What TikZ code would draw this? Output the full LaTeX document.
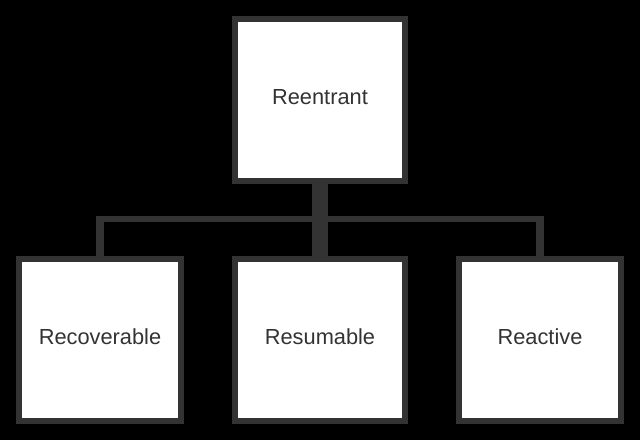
\documentclass[tikz,border=0pt]{standalone}
\usepackage{fontspec}
\setmainfont{Liberation Sans}
\definecolor{ink}{HTML}{333333}
\begin{document}
\begin{tikzpicture}[x=1pt,y=-1pt,
  box/.style={draw=ink, fill=white, line width=6pt, rectangle, inner sep=0pt,
    text=ink, font=\fontsize{21.8}{26}\selectfont, minimum height=162pt, text depth=7pt},
  narrow/.style={box, minimum width=162pt},
  wide/.style={box, minimum width=170pt},
  conn/.style={draw=ink}]
\fill[black] (0,0) rectangle (640,440);
\useasboundingbox (0,0) rectangle (640,440);
\node[wide] (ree) at (320,100) {Reentrant};
\node[narrow] (rec) at (100,340) {Recoverable};
\node[wide] (res) at (320,340) {Resumable};
\node[narrow] (rea) at (540,340) {Reactive};
\coordinate (hl) at (96,219);
\coordinate (hr) at (544,219);
\draw[conn, line width=16pt] ([yshift=3pt]ree.south) -- ([yshift=-3pt]res.north);
\draw[conn, line width=6pt] (hl) -- (hr);
\draw[conn, line width=8pt] ([yshift=-3pt]rec.north) -- ([yshift=-3pt]rec.north |- hl);
\draw[conn, line width=8pt] ([yshift=-3pt]rea.north) -- ([yshift=-3pt]rea.north |- hl);
\end{tikzpicture}
\end{document}
